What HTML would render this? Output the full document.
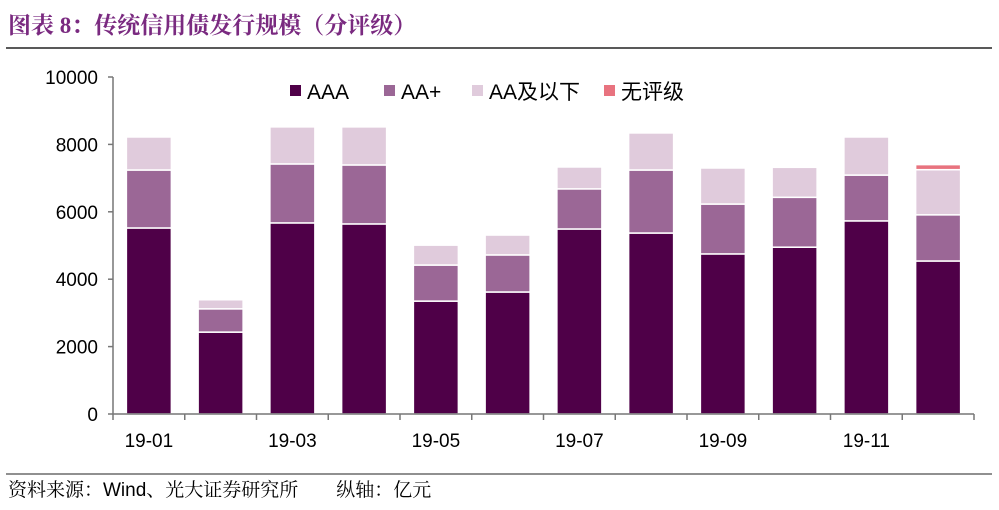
<!DOCTYPE html>
<html><head><meta charset="utf-8"><style>
body{margin:0;width:999px;height:505px;background:#fff;overflow:hidden;font-family:"Liberation Sans","Noto Sans CJK SC",sans-serif}
</style></head><body>
<svg width="999" height="505" xmlns="http://www.w3.org/2000/svg">
<text x="8" y="33" font-size="23" font-weight="bold" fill="#7a2a80" font-family="'Liberation Serif','Noto Serif CJK SC',serif">图表 8：传统信用债发行规模（分评级）</text>
<line x1="6" y1="48" x2="992" y2="48" stroke="#222" stroke-width="1.5"/>
<g id="plot"></g>
<g id="legend"></g>
<line x1="6" y1="474" x2="992" y2="474" stroke="#222" stroke-width="1"/>
<text x="8" y="496" font-size="19" fill="#000" font-family="'Liberation Sans','Noto Serif CJK SC',serif">资料来源：Wind、光大证券研究所　　纵轴：亿元</text>
</svg>
<script>
const categories=["19-01","19-02","19-03","19-04","19-05","19-06","19-07","19-08","19-09","19-10","19-11","19-12"];
const aaa=[5520,2430,5670,5640,3350,3620,5490,5370,4750,4950,5730,4540];
const aaPlus=[1720,690,1750,1750,1070,1100,1190,1870,1480,1480,1360,1370];
const aaBelow=[980,270,1100,1130,590,590,650,1100,1070,890,1130,1340];
const unrated=[0,0,0,0,0,0,0,0,0,0,0,150];
const yTicks=[0,2000,4000,6000,8000,10000];
const seriesNames=["AAA","AA+","AA及以下","无评级"];
const colors=["#4f0048","#9b6796","#e0cbdc","#e8737f"];
const NS="http://www.w3.org/2000/svg";
const x0=113,x1=974,y0=414,yTop=77,ymax=10000;
const band=(x1-x0)/categories.length,bw=45;
const y=v=>y0-(v/ymax)*(y0-yTop);
const xc=i=>x0+band*(i+0.5);
const plot=document.getElementById('plot');
function mk(tag,attrs,parent){const e=document.createElementNS(NS,tag);for(const k in attrs)e.setAttribute(k,attrs[k]);(parent||plot).appendChild(e);return e;}
const series=[aaa,aaPlus,aaBelow,unrated];
const segNames=['bar-aaa','bar-aa-plus','bar-aa-below','bar-unrated'];
categories.forEach((c,i)=>{let base=0;series.forEach((s,k)=>{const v=s[i];if(v<=0)return;const r=mk('rect',{x:xc(i)-bw/2,y:y(base+v),width:bw,height:y(base)-y(base+v),fill:colors[k],stroke:'#fff','stroke-width':1.5});


base+=v;});});
mk('line',{x1:x0,y1:yTop,x2:x0,y2:y0,stroke:'#777','stroke-width':1.5});
mk('line',{x1:x0,y1:y0,x2:x1,y2:y0,stroke:'#777','stroke-width':1.5});
yTicks.forEach(t=>{mk('line',{x1:x0-5,y1:y(t),x2:x0,y2:y(t),stroke:'#777','stroke-width':1.5});
const tx=mk('text',{x:x0-15,y:y(t)+7,'text-anchor':'end','font-size':19,fill:'#000'});tx.textContent=t;

});
for(let i=0;i<=categories.length;i++){mk('line',{x1:x0+band*i,y1:y0,x2:x0+band*i,y2:y0+6,stroke:'#777','stroke-width':1.5});}
categories.forEach((c,i)=>{if(i%2)return;const tx=mk('text',{x:xc(i),y:447,'text-anchor':'middle','font-size':19,fill:'#000'});tx.textContent=c;

});
const lg=document.getElementById('legend');
const lx=[290,384,472,604];
seriesNames.forEach((n,k)=>{mk('rect',{x:lx[k],y:85,width:11,height:11,fill:colors[k]},lg);
const t=mk('text',{x:lx[k]+17,y:99,'font-size':21,fill:'#000'},lg);t.textContent=n;

});
</script>
</body></html>
